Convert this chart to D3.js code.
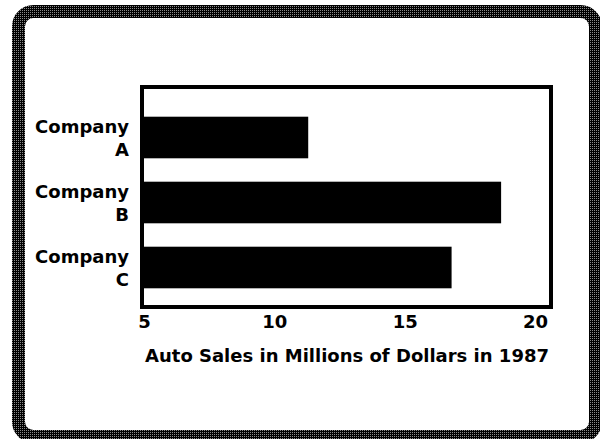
<!DOCTYPE html>
<html lang="en">
<head>
    <meta charset="UTF-8">
    <title>Auto Sales in 1987</title>
    <style>
        body { margin: 0; background: #fff; }
        .label { font-family: "DejaVu Sans", sans-serif; font-weight: bold; font-size: 18px; fill: #000; }
        .bar { fill: #000; }
    </style>
</head>
<body>
    <svg id="chart" width="600" height="439"></svg>

    <script src="https://d3js.org/d3.v7.min.js"></script>
    <script>
        const companies = ["A", "B", "C"];
        const sales = [11.3, 18.7, 16.8];
        const xTicks = [5, 10, 15, 20];
        const xTitle = "Auto Sales in Millions of Dollars in 1987";

        const svg = d3.select("#chart");

        // dithered frame pattern
        const pat = svg.append("defs").append("pattern")
            .attr("id", "dither")
            .attr("width", 2).attr("height", 2)
            .attr("patternUnits", "userSpaceOnUse");
        pat.append("rect").attr("width", 2).attr("height", 2).attr("fill", "#000");
        pat.append("rect").attr("x", 0).attr("y", 0).attr("width", 1).attr("height", 1).attr("fill", "#8a8a8a");

        svg.append("rect")
            .attr("x", 18.5).attr("y", 11.5)
            .attr("width", 577).attr("height", 425)
            .attr("rx", 15).attr("ry", 15)
            .attr("fill", "#fff")
            .attr("stroke", "url(#dither)")
            .attr("stroke-width", 13);

        const data = companies.map((c, i) => ({ company: c, value: sales[i] }));

        const x = d3.scaleLinear()
            .domain([5, 20])
            .range([144, 535]);

        const y = d3.scaleBand()
            .domain(companies)
            .range([105, 300])
            .paddingInner(0.36)
            .paddingOuter(0.18);

        svg.selectAll(".bar")
            .data(data)
            .enter().append("rect")
            .attr("class", "bar")
            .attr("x", x(5))
            .attr("y", d => y(d.company))
            .attr("width", d => x(d.value) - x(5))
            .attr("height", y.bandwidth());

        // plot box
        svg.append("rect")
            .attr("x", 142).attr("y", 87)
            .attr("width", 409).attr("height", 220)
            .attr("fill", "none")
            .attr("stroke", "#000")
            .attr("stroke-width", 4);

        const xAxis = svg.append("g")
            .attr("transform", "translate(0,309)")
            .call(d3.axisBottom(x).tickValues(xTicks).tickSize(0).tickPadding(0));
        xAxis.select(".domain").remove();
        xAxis.selectAll("text")
            .attr("class", "label")
            .attr("y", 19)
            .attr("dy", 0);

        svg.append("text")
            .attr("class", "label")
            .attr("x", 347)
            .attr("y", 362)
            .attr("text-anchor", "middle")
            .text(xTitle);

        // two-line company labels
        const yAxis = svg.append("g")
            .attr("transform", "translate(129,0)")
            .call(d3.axisLeft(y).tickSize(0).tickPadding(0).tickFormat(""));
        yAxis.select(".domain").remove();
        yAxis.selectAll(".tick text").remove();
        yAxis.selectAll(".tick").each(function(d) {
            const g = d3.select(this);
            g.append("text").attr("class", "label").attr("text-anchor", "end")
                .attr("y", -4.5).text("Company");
            g.append("text").attr("class", "label").attr("text-anchor", "end")
                .attr("y", 18.5).text(d);
        });
    </script>
</body>
</html>
